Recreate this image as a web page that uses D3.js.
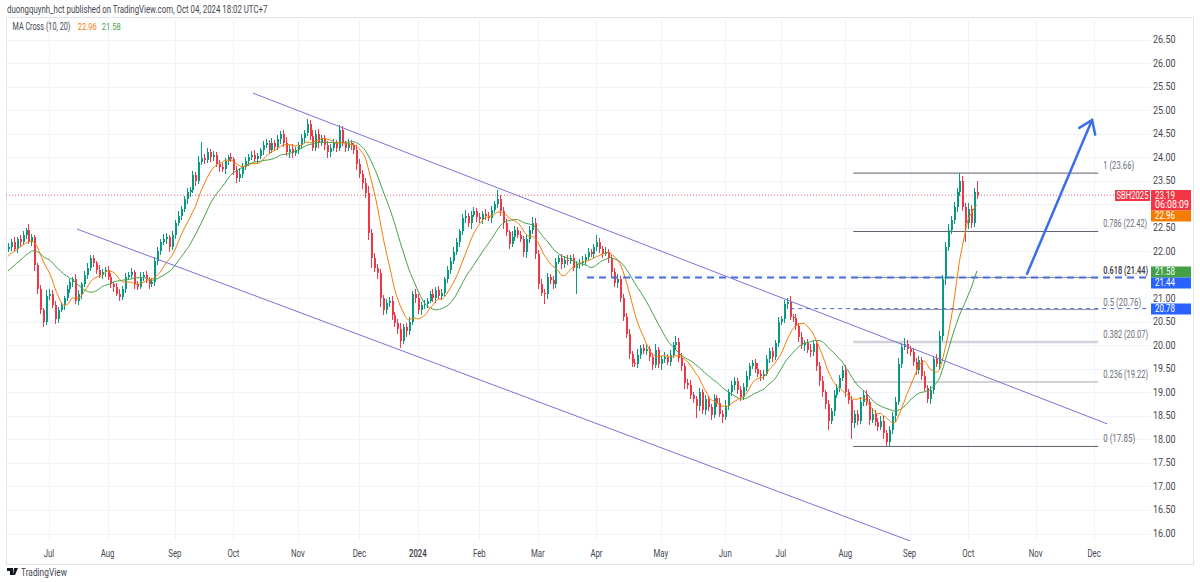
<!DOCTYPE html>
<html><head><meta charset="utf-8">
<script src="https://cdn.jsdelivr.net/npm/d3@7"></script>
<style>html,body{margin:0;padding:0;background:#fff;}svg{display:block;font-family:Roboto,"Noto Sans",sans-serif;}</style>
</head><body><svg id="c" width="1200" height="582"></svg>
<script>
// ---- data (SBH2025, daily, 2023-06-12 .. 2024-10-04) ----
const closes=[
22.1,22.2,22.05,22.25,22.2,22.35,22.45,22.2,22.3,21.7,
21.2,20.75,20.5,21.05,21.1,20.85,20.55,20.75,20.85,21.0,
21.2,21.35,21.4,20.95,21.1,21.3,21.5,21.65,21.85,21.75,
21.6,21.5,21.55,21.6,21.45,21.3,21.25,21.1,21.03,21.2,
21.45,21.5,21.55,21.3,21.25,21.45,21.5,21.4,21.3,21.35,
21.8,22.0,22.2,22.25,22.3,22.1,22.35,22.6,22.75,22.9,
23.1,23.25,23.3,23.62,23.5,23.9,23.98,23.94,24.1,24.0,
24.05,23.85,23.78,23.75,23.92,24.0,23.95,23.73,23.55,23.65,
23.8,23.92,24.0,24.05,23.97,24.02,24.15,24.25,24.3,24.15,
24.3,24.22,24.38,24.5,24.3,24.1,24.18,24.08,24.15,24.25,
24.4,24.52,24.7,24.45,24.2,24.5,24.3,24.4,24.25,24.1,
24.2,24.3,24.2,24.58,24.3,24.2,24.3,24.25,24.15,23.85,
23.65,23.45,23.23,22.38,21.85,21.65,21.53,21.0,20.75,20.9,
20.95,20.65,20.47,20.35,20.1,20.39,20.3,20.5,21.1,21.0,
20.75,20.85,20.88,20.95,21.08,21.0,21.17,21.05,21.12,21.4,
21.6,21.8,21.98,22.2,22.42,22.7,22.75,22.6,22.78,22.85,
22.72,22.68,22.8,22.75,22.7,22.88,23.0,23.12,22.85,22.6,
22.4,22.15,22.3,22.45,22.34,22.27,21.98,22.25,22.45,22.6,
21.95,21.3,21.12,21.08,21.45,21.38,21.3,21.78,21.85,21.72,
21.82,21.8,21.85,21.64,21.72,21.76,21.8,21.88,21.98,21.95,
22.08,22.2,22.05,21.95,21.98,21.85,21.55,21.32,21.4,21.0,
20.6,20.25,19.82,19.62,19.6,19.8,19.94,19.88,19.92,19.75,
19.58,19.9,19.6,19.7,19.75,19.65,19.8,20.0,20.07,19.73,
19.55,19.2,19.15,18.95,18.85,18.7,19.0,18.62,18.85,18.68,
18.52,18.88,18.78,18.55,18.47,18.72,19.0,19.15,19.25,19.05,
18.9,19.12,19.35,19.55,19.62,19.5,19.4,19.35,19.4,19.7,
19.88,19.75,20.05,20.5,20.55,20.88,20.92,20.6,20.58,20.4,
20.18,20.0,20.05,19.9,19.85,20.03,19.55,19.25,19.0,18.75,
18.4,18.6,18.95,19.1,19.3,19.47,19.0,18.83,18.34,18.55,
18.4,18.8,18.95,18.8,18.42,18.55,18.38,18.27,18.4,18.13,
17.95,18.2,18.5,18.8,19.6,19.97,20.03,19.92,19.85,19.65,
19.47,19.69,19.35,19.1,18.85,19.05,19.7,19.6,20.2,21.4,
22.1,22.45,22.66,22.94,23.25,23.5,22.95,22.6,22.9,22.6,
23.25,23.19];
const opens=[
22.05,22.1,22.2,22.05,22.25,22.2,22.35,22.45,22.2,22.3,
21.7,21.2,20.75,20.5,21.05,21.1,20.85,20.55,20.75,20.85,
21.0,21.2,21.35,21.4,20.95,21.1,21.3,21.5,21.65,21.85,
21.75,21.6,21.5,21.55,21.6,21.45,21.3,21.25,21.1,21.03,
21.2,21.45,21.5,21.55,21.3,21.25,21.45,21.5,21.4,21.3,
21.35,21.8,22.0,22.2,22.25,22.3,22.1,22.35,22.6,22.75,
22.9,23.1,23.25,23.3,23.62,23.5,23.9,23.98,23.94,24.1,
24.0,24.05,23.85,23.78,23.75,23.92,24.0,23.95,23.73,23.55,
23.65,23.8,23.92,24.0,24.05,23.97,24.02,24.15,24.25,24.3,
24.15,24.3,24.22,24.38,24.5,24.3,24.1,24.18,24.08,24.15,
24.25,24.4,24.52,24.7,24.45,24.2,24.5,24.3,24.4,24.25,
24.1,24.2,24.3,24.2,24.58,24.3,24.2,24.3,24.25,24.15,
23.85,23.65,23.45,23.23,22.38,21.85,21.65,21.53,21.0,20.75,
20.9,20.95,20.65,20.47,20.35,20.1,20.39,20.3,20.5,21.1,
21.0,20.75,20.85,20.88,20.95,21.08,21.0,21.17,21.05,21.12,
21.4,21.6,21.8,21.98,22.2,22.42,22.7,22.75,22.6,22.78,
22.85,22.72,22.68,22.8,22.75,22.7,22.88,23.0,23.12,22.85,
22.6,22.4,22.15,22.3,22.45,22.34,22.27,21.98,22.25,22.45,
22.6,21.95,21.3,21.12,21.08,21.45,21.38,21.3,21.78,21.85,
21.72,21.82,21.8,21.85,21.64,21.72,21.76,21.8,21.88,21.98,
21.95,22.08,22.2,22.05,21.95,21.98,21.85,21.55,21.32,21.4,
21.0,20.6,20.25,19.82,19.62,19.6,19.8,19.94,19.88,19.92,
19.75,19.58,19.9,19.6,19.7,19.75,19.65,19.8,20.0,20.07,
19.73,19.55,19.2,19.15,18.95,18.85,18.7,19.0,18.62,18.85,
18.68,18.52,18.88,18.78,18.55,18.47,18.72,19.0,19.15,19.25,
19.05,18.9,19.12,19.35,19.55,19.62,19.5,19.4,19.35,19.4,
19.7,19.88,19.75,20.05,20.5,20.55,20.88,20.92,20.6,20.58,
20.4,20.18,20.0,20.05,19.9,19.85,20.03,19.55,19.25,19.0,
18.75,18.4,18.6,18.95,19.1,19.3,19.47,19.0,18.83,18.34,
18.55,18.4,18.8,18.95,18.8,18.42,18.55,18.38,18.27,18.4,
18.13,17.95,18.2,18.5,18.8,19.6,19.97,20.03,19.92,19.85,
19.65,19.47,19.69,19.35,19.1,18.85,19.05,19.7,19.6,20.2,
21.4,22.1,22.45,22.66,22.94,23.25,23.5,22.95,22.6,22.9,
22.6,23.25];
// wick lengths above / below the body, in cents
const upperWicks=[
8,6,10,5,9,7,5,12,6,4, 6,8,5,12,9,7,10,6,8,5, 9,7,6,11,8,5,7,9,6,8, 5,10,7,6,8,9,5,7,10,6,
8,6,9,5,7,10,6,8,5,9, 7,10,6,12,8,5,9,7,11,6, 8,10,7,9,6,12,35,8,10,7, 9,6,8,10,7,5,9,6,8,12,
7,9,6,8,10,7,5,9,8,6, 10,7,9,6,8,12,7,9,6,8, 9,6,10,8,12,7,9,6,8,10, 7,9,6,10,8,5,9,7,6,10,
12,8,10,15,9,12,8,10,7,9, 8,10,6,9,12,7,8,10,6,9, 10,7,9,6,8,12,7,9,8,6, 9,7,10,8,6,9,12,7,8,10,
7,9,6,10,8,9,7,18,8,10, 9,6,12,8,7,10,6,9,8,12, 10,8,12,7,9,6,10,8,7,9, 8,10,6,9,7,8,10,6,9,7,
8,15,9,7,10,6,8,9,12,7, 9,8,10,6,9,12,7,8,10,6, 9,12,7,8,10,6,9,7,12,8, 10,7,9,12,6,8,10,7,9,8,
7,9,6,10,8,12,7,9,8,6, 9,7,10,8,6,9,12,7,8,10, 7,9,6,10,8,9,8,12,7,9, 8,10,6,9,12,7,8,10,9,6,
9,7,10,8,6,9,12,8,10,7, 8,10,7,9,6,12,8,7,9,10, 7,9,8,10,12,8,12,9,7,10, 8,9,7,10,6,9,8,12,10,9,
10,12,8,10,9,16,10,8,12,9, 10,25];
const lowerWicks=[
7,9,5,8,10,6,8,5,9,12, 10,8,12,7,9,6,10,8,5,9, 6,8,10,7,9,12,6,8,7,9, 8,6,9,10,7,8,12,6,9,7,
9,7,6,10,8,5,9,7,10,6, 8,9,7,6,10,12,7,9,6,8, 7,9,10,6,12,8,7,9,6,10, 8,6,9,7,10,8,6,12,9,7,
9,7,10,6,8,9,7,10,6,8, 7,9,6,10,8,7,12,9,6,8, 8,10,7,9,6,8,10,7,9,12, 9,7,10,8,6,9,7,10,8,12,
10,12,9,15,20,10,12,18,10,8, 9,12,8,10,16,8,12,9,7,10, 8,10,7,9,6,8,10,7,9,8, 7,9,8,6,10,7,9,8,12,6,
9,7,10,8,6,9,7,8,10,12, 8,10,7,9,6,8,10,12,7,9, 12,10,8,20,9,7,10,8,6,9, 7,9,8,6,54,10,7,9,6,8,
9,7,8,10,6,9,12,8,10,9, 8,10,12,9,7,8,10,6,9,8, 10,7,9,12,8,6,9,7,10,8, 9,12,7,10,8,25,9,7,10,8,
10,7,9,8,12,6,9,7,10,8, 9,7,10,8,6,9,7,10,8,6, 8,10,7,9,6,8,10,7,9,8, 10,8,12,7,9,8,10,12,9,10,
20,8,10,7,9,6,10,8,34,9, 10,7,9,8,12,8,10,9,7,12, 10,9,8,12,7,9,8,10,7,9, 10,8,9,7,8,10,9,7,12,10,
12,10,9,8,10,8,10,40,12,10, 9,8];
// closes of the 19 sessions before the visible window (seed the moving averages)
const priorCloses=[21.0,21.1,20.95,21.2,21.3,21.25,21.4,21.35,21.5,21.6,21.55,21.7,21.8,21.75,21.9,22.0,21.95,22.1,22.05];
const monthLabels=["Jul","Aug","Sep","Oct","Nov","Dec","2024","Feb","Mar","Apr","May","Jun","Jul","Aug","Sep","Oct","Nov","Dec"];
const monthBarIndex=[14,34,57,77,99,120,140,161,181,201,223,245,264,286,308,328,351,371];
const priceTicks=[16,16.5,17,17.5,18,18.5,19,19.5,20,20.5,21,21.5,22,22.5,23,23.5,24,24.5,25,25.5,26,26.5];
const fibRatios=["1","0.786","0.618","0.5","0.382","0.236","0"];
const fibPrices=[23.66,22.42,21.44,20.76,20.07,19.22,17.85];
const maPeriods=[10,20];
const maLast=[22.96,21.58];
const lastPrice=23.19, hLine1=21.44, hLine2=20.78;

// ---- layout ----
const pane={l:6,t:17,r:1150,b:541};
const x=d3.scaleLinear().domain([0,331]).range([8,977]);
const y=d3.scaleLinear().domain([16,26.5]).range([533.5,39.5]);
const svg=d3.select("#c");
const GREEN="#089981",RED="#f23645",ORANGE="#f57c00",MAGREEN="#43a047",BLUE="#2962ff",CH="#7f71d9",TXT="#434651";
// narrow a text horizontally to a given width (scale transform around its anchor)
function fit(sel,w){sel.each(function(){const t=d3.select(this);const x0=+t.attr("x"),y0=+t.attr("y");
  const L=this.getComputedTextLength();t.attr("x",0).attr("y",0).attr("transform",`translate(${x0},${y0}) scale(${w/L},1)`);});return sel;}
function squeeze(sel,k){sel.each(function(){const t=d3.select(this);const x0=+t.attr("x"),y0=+t.attr("y");
  t.attr("x",0).attr("y",0).attr("transform",`translate(${x0},${y0}) scale(${k},1)`);});return sel;}

svg.append("defs").append("clipPath").attr("id","pc").append("rect")
 .attr("x",pane.l).attr("y",pane.t).attr("width",pane.r-pane.l).attr("height",pane.b-pane.t);

// header
fit(svg.append("text").attr("x",7).attr("y",12.5).attr("font-size",10).attr("fill",TXT)
 .text("duongquynh_hct published on TradingView.com, Oct 04, 2024 18:02 UTC+7"),261);
// frame
svg.append("rect").attr("x",pane.l+0.5).attr("y",pane.t+0.5).attr("width",1193-pane.l).attr("height",564-pane.t)
 .attr("fill","none").attr("stroke","#e0e3eb");

const g=svg.append("g").attr("clip-path","url(#pc)");
// grid
g.selectAll(".hg").data(priceTicks).join("line").attr("x1",pane.l).attr("x2",pane.r)
 .attr("y1",d=>Math.round(y(d))+0.5).attr("y2",d=>Math.round(y(d))+0.5).attr("stroke","#f0f3fa");
g.selectAll(".vg").data(monthBarIndex).join("line").attr("y1",pane.t).attr("y2",pane.b)
 .attr("x1",d=>Math.round(x(d))+0.5).attr("x2",d=>Math.round(x(d))+0.5).attr("stroke","#f0f3fa");

// current price dotted line
g.append("line").attr("x1",pane.l).attr("x2",pane.r).attr("y1",y(lastPrice)).attr("y2",y(lastPrice))
 .attr("stroke",RED).attr("stroke-width",1).attr("stroke-dasharray","1,2").attr("opacity",0.8);

// fib retracement
const fibColors=["#5d606b","#5d606b","#8a8d96","#9598a1","#cfd2d8","#a3a6ae","#5d606b"];
const fibWidths=[1,1,1,1,2.5,1,1];
const fibLabelW=[31,44,45,38,45,45,32];
const fibFrom=288.7, fibTo=372.4;
fibPrices.forEach((p,k)=>{
  g.append("line").attr("x1",x(fibFrom)).attr("x2",x(fibTo)).attr("y1",y(p)).attr("y2",y(p))
   .attr("stroke",fibColors[k]).attr("stroke-width",fibWidths[k]);
  fit(svg.append("text").attr("x",x(fibTo)+5).attr("y",y(p)-4).attr("font-size",10)
   .attr("fill",k==2?"#3f424c":"#6a6d78").attr("font-weight",k==2?600:400)
   .text(fibRatios[k]+" ("+p.toFixed(2)+")"),fibLabelW[k]);
});

// candles
const candles=closes.map((c,i)=>{const o=opens[i];return{i,o,c,h:Math.max(o,c)+upperWicks[i]/100,l:Math.min(o,c)-lowerWicks[i]/100};});
const cg=g.append("g").attr("shape-rendering","crispEdges");
cg.selectAll(".w").data(candles).join("rect")
 .attr("x",d=>Math.round(x(d.i))).attr("width",1)
 .attr("y",d=>y(d.h)).attr("height",d=>Math.max(1,y(d.l)-y(d.h)))
 .attr("fill",d=>d.c>=d.o?GREEN:RED);
cg.selectAll(".b").data(candles).join("rect")
 .attr("x",d=>Math.round(x(d.i))-0.5).attr("width",2)
 .attr("y",d=>y(Math.max(d.o,d.c))).attr("height",d=>Math.max(1,Math.abs(y(d.o)-y(d.c))))
 .attr("fill",d=>d.c>=d.o?GREEN:RED);

// moving averages
const full=priorCloses.concat(closes);
const off=priorCloses.length;
function sma(n){return closes.map((c,i)=>({i,v:d3.mean(full.slice(i+off-n+1,i+off+1))}));}
const line=d3.line().x(d=>x(d.i)).y(d=>y(d.v)).curve(d3.curveMonotoneX);
g.append("path").datum(sma(maPeriods[1])).attr("d",line).attr("fill","none").attr("stroke",MAGREEN).attr("stroke-width",1);
g.append("path").datum(sma(maPeriods[0])).attr("d",line).attr("fill","none").attr("stroke",ORANGE).attr("stroke-width",1);

// channel
const chan=[[[83.7,25.36],[375.5,18.33]],[[23.6,22.47],[308.2,15.84]]];
chan.forEach(s=>g.append("line").attr("x1",x(s[0][0])).attr("y1",y(s[0][1])).attr("x2",x(s[1][0])).attr("y2",y(s[1][1]))
 .attr("stroke",CH).attr("stroke-width",1));

// horizontal dashed levels
g.append("line").attr("x1",x(197.8)).attr("x2",pane.r).attr("y1",y(hLine1)).attr("y2",y(hLine1))
 .attr("stroke","#4a6bd6").attr("stroke-width",2).attr("stroke-dasharray","7,5");
g.append("line").attr("x1",x(267.2)).attr("x2",pane.r).attr("y1",y(hLine2)).attr("y2",y(hLine2))
 .attr("stroke","#4a6bd6").attr("stroke-width",1).attr("stroke-dasharray","4,4");

// arrow
const a0=[x(348.1),y(21.52)],a1=[x(370.3),y(24.79)];
const dx=a0[0]-a1[0],dy=a0[1]-a1[1],len=Math.hypot(dx,dy),ux=dx/len,uy=dy/len,ang=35*Math.PI/180,al=15;
const arm=s=>[a1[0]+al*(ux*Math.cos(ang)-s*uy*Math.sin(ang)),a1[1]+al*(s*ux*Math.sin(ang)+uy*Math.cos(ang))];
const ag=g.append("g").attr("stroke","#3a6fe6").attr("stroke-width",2.5).attr("stroke-linecap","round").attr("fill","none");
ag.append("line").attr("x1",a0[0]).attr("y1",a0[1]).attr("x2",a1[0]).attr("y2",a1[1]);
ag.append("polyline").attr("points",[arm(1),a1,arm(-1)].map(p=>p.join(",")).join(" "));

// legend
fit(svg.append("text").attr("x",12.5).attr("y",29.5).attr("font-size",10).attr("fill",TXT).text("MA Cross (10, 20)"),58);
fit(svg.append("text").attr("x",77.7).attr("y",29.5).attr("font-size",10).attr("fill",ORANGE).text(maLast[0].toFixed(2)),19);
fit(svg.append("text").attr("x",101.7).attr("y",29.5).attr("font-size",10).attr("fill",MAGREEN).text(maLast[1].toFixed(2)),19);

// time axis
squeeze(svg.selectAll(".tl").data(monthLabels).join("text").attr("x",(d,k)=>x(monthBarIndex[k])).attr("y",556.5)
 .attr("text-anchor","middle").attr("font-size",10).attr("fill",TXT).attr("font-weight",d=>d=="2024"?600:400).text(d=>d),0.78);

// price axis
const hidden=[23,21.5];
fit(svg.selectAll(".pl").data(priceTicks.filter(p=>!hidden.includes(p))).join("text").attr("x",1153).attr("y",d=>y(d)+3.5)
 .attr("font-size",10).attr("fill",TXT).text(d=>d.toFixed(2)),22.5);

// badges
function badge(x0,y0,w,h,col,lines,widths,anchor){
  svg.append("rect").attr("x",x0).attr("y",y0).attr("width",w).attr("height",h).attr("fill",col);
  lines.forEach((t,k)=>fit(svg.append("text").attr("x",anchor=="middle"?x0+w/2:x0+4).attr("y",y0+8.8+k*9.6)
   .attr("text-anchor",anchor||"start").attr("font-size",10).attr("fill","#fff").text(t),widths[k]));
}
badge(1115,190,35,11,RED,["SBH2025"],[32],"middle");
badge(1151,190,40,20.5,RED,[lastPrice.toFixed(2),"06:08:09"],[20,34]);
badge(1151,210.5,40,11,ORANGE,[maLast[0].toFixed(2)],[20]);
badge(1151,266.5,40,11,MAGREEN,[maLast[1].toFixed(2)],[20]);
badge(1151,277.5,40,11,BLUE,[hLine1.toFixed(2)],[20]);
badge(1151,303.5,40,11,BLUE,[hLine2.toFixed(2)],[20]);

// footer
const fg=svg.append("g").attr("transform","translate(7,567)");
fg.append("path").attr("d","M0,1h6v7h-3v-4h-3z M7,1h4l-3,7h-2z").attr("fill","#131722");
fg.append("circle").attr("cx",8.5).attr("cy",2.5).attr("r",1.4).attr("fill","#131722");
fit(svg.append("text").attr("x",21).attr("y",575.5).attr("font-size",10).attr("fill",TXT).text("TradingView"),46);
</script></body></html>
